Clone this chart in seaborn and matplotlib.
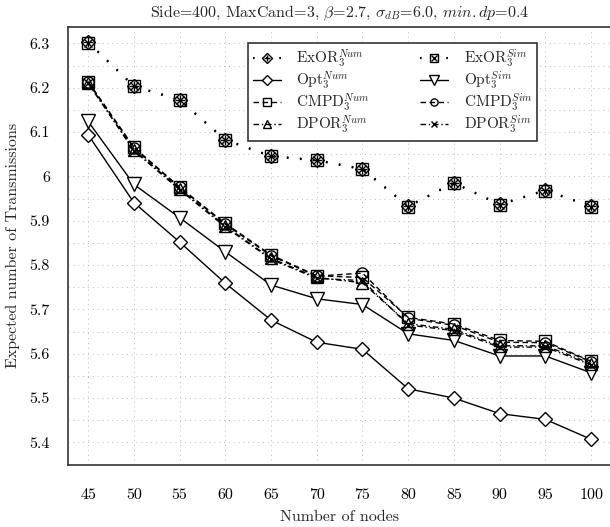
import numpy as np
import pandas as pd
import matplotlib
matplotlib.use("Agg")
import matplotlib.pyplot as plt
import seaborn as sns
from matplotlib.legend_handler import HandlerTuple

# data
nodes = [45, 50, 55, 60, 65, 70, 75, 80, 85, 90, 95, 100]
exor_num = [6.303, 6.204, 6.173, 6.083, 6.046, 6.037, 6.017, 5.933, 5.986, 5.937, 5.969, 5.933]
exor_sim = [6.302, 6.203, 6.172, 6.082, 6.045, 6.036, 6.016, 5.932, 5.985, 5.936, 5.968, 5.932]
opt_num = [6.094, 5.941, 5.852, 5.759, 5.676, 5.626, 5.610, 5.521, 5.500, 5.465, 5.452, 5.407]
opt_sim = [6.124, 5.982, 5.907, 5.830, 5.755, 5.724, 5.711, 5.645, 5.630, 5.595, 5.595, 5.557]
cmpd_num = [6.214, 6.066, 5.976, 5.894, 5.823, 5.776, 5.772, 5.682, 5.667, 5.630, 5.628, 5.583]
cmpd_sim = [6.212, 6.064, 5.975, 5.892, 5.821, 5.775, 5.782, 5.680, 5.664, 5.626, 5.625, 5.582]
dpor_num = [6.210, 6.060, 5.972, 5.888, 5.815, 5.772, 5.760, 5.668, 5.655, 5.618, 5.618, 5.578]
dpor_sim = [6.211, 6.058, 5.970, 5.886, 5.813, 5.770, 5.765, 5.665, 5.652, 5.615, 5.615, 5.575]

x_ticks = [45, 50, 55, 60, 65, 70, 75, 80, 85, 90, 95, 100]
y_ticks = [5.4, 5.5, 5.6, 5.7, 5.8, 5.9, 6.0, 6.1, 6.2, 6.3]
y_tick_labels = ["5.4", "5.5", "5.6", "5.7", "5.8", "5.9", "6", "6.1", "6.2", "6.3"]

sns.set_theme(style="white")
plt.rcParams["font.family"] = ["cmr10", "DejaVu Serif"]
plt.rcParams["mathtext.fontset"] = "cm"
plt.rcParams["axes.formatter.use_mathtext"] = True

fig = plt.figure(figsize=(6.1, 5.27), dpi=100)
ax = fig.add_axes([0.1115, 0.1184, 0.8905, 0.8304])

dotted = (0, (0.8, 5.5))
dashed = (0, (4, 2.5))
dashdot = (0, (4, 2, 1, 2))


def draw(y, marker, ls, size, face="none", lw=1.0):
    sns.lineplot(x=nodes, y=y, ax=ax, color="black", lw=lw, linestyle=ls,
                 marker=marker, markersize=size, markerfacecolor=face,
                 markeredgecolor="black", markeredgewidth=1)
    return ax.lines[-1]


def overlay(y, marker, size):
    sns.lineplot(x=nodes, y=y, ax=ax, color="black", linestyle="none",
                 marker=marker, markersize=size, markeredgecolor="black",
                 markeredgewidth=1)
    return ax.lines[-1]


# Opt
h_opt_num = draw(opt_num, "D", "-", 7.2, face="white")
h_opt_sim = draw(opt_sim, "v", "-", 10, face="white")
# CMPD / DPOR
h_cmpd_num = draw(cmpd_num, "s", dashed, 8)
h_cmpd_sim = draw(cmpd_sim, "o", dashed, 8)
h_dpor_num = draw(dpor_num, "^", dashdot, 8)
h_dpor_sim = draw(dpor_sim, "x", dashdot, 7)
# ExOR
h_exn_a = draw(exor_num, "D", dotted, 7.2, lw=1.5)
h_exn_b = overlay(exor_num, "+", 7)
h_exs_a = draw(exor_sim, "s", dotted, 8, lw=1.5)
h_exs_b = overlay(exor_sim, "x", 6)

ax.set_xlim(42.8, 102.2)
ax.set_ylim(5.354, 6.337)
ax.set_xticks(x_ticks)
ax.set_xticklabels([str(v) for v in x_ticks])
ax.set_yticks(y_ticks)
ax.set_yticklabels(y_tick_labels)
ax.set_yticks(np.arange(5.35, 6.34, 0.05), minor=True)
ax.grid(True, which="both", color="#bbbbbb", lw=0.7, linestyle=(0, (1, 4)))
ax.tick_params(axis="both", which="major", direction="out", length=6, width=1,
               color="#333333", labelsize=11.5, labelcolor="black")
ax.tick_params(axis="x", pad=11)
ax.tick_params(axis="y", pad=7)
ax.tick_params(which="minor", length=0)
for side in ["left", "bottom", "top", "right"]:
    ax.spines[side].set_color("#333333")
    ax.spines[side].set_linewidth(1.2)

ax.set_title(r"Side=400, MaxCand=3, $\beta$=2.7, $\sigma_{dB}$=6.0, $min.dp$=0.4",
             fontsize=11.5, pad=7)
ax.set_xlabel("Number of nodes", fontsize=11.5, labelpad=6)
ax.set_ylabel("Expected number of Transmissions", fontsize=11.5, labelpad=7)

handles = [(h_exn_a, h_exn_b), h_opt_num, h_cmpd_num, h_dpor_num,
           (h_exs_a, h_exs_b), h_opt_sim, h_cmpd_sim, h_dpor_sim]
labels = [r"ExOR$_3^{Num}$", r"Opt$_3^{Num}$", r"CMPD$_3^{Num}$", r"DPOR$_3^{Num}$",
          r"ExOR$_3^{Sim}$", r"Opt$_3^{Sim}$", r"CMPD$_3^{Sim}$", r"DPOR$_3^{Sim}$"]
leg = ax.legend(handles, labels, ncol=2, loc="upper left",
                bbox_to_anchor=(0.3315, 0.963), borderaxespad=0, fontsize=11,
                handlelength=1.85, handletextpad=1.0, columnspacing=3.3,
                labelspacing=0.0, borderpad=0.3, frameon=True, fancybox=False,
                markerscale=0.65,
                handler_map={tuple: HandlerTuple(ndivide=1)})
leg.get_frame().set_edgecolor("#333333")
leg.get_frame().set_linewidth(1.2)
leg.get_frame().set_alpha(1)

fig.savefig("out.png", dpi=100)
